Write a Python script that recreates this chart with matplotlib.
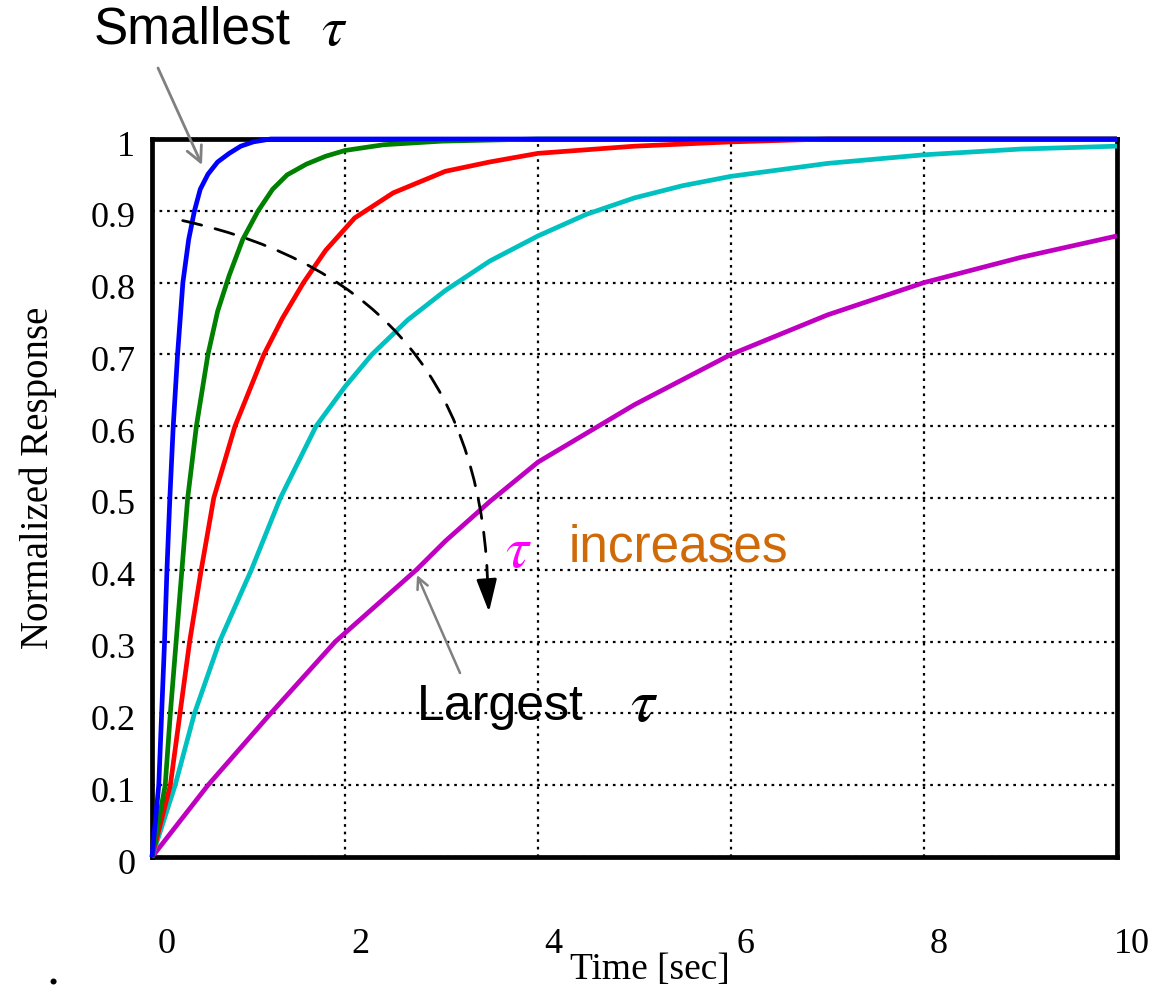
import numpy as np
import matplotlib
matplotlib.use("Agg")
import matplotlib.pyplot as plt
from matplotlib.patches import FancyArrowPatch
from matplotlib.transforms import ScaledTranslation

plt.rcParams["mathtext.fontset"] = "stix"

# ---------------- data ----------------
t_blue = [0, 0.07, 0.10, 0.13, 0.155, 0.185, 0.22, 0.265, 0.32, 0.38, 0.44, 0.50, 0.58,
          0.68, 0.80, 0.92, 1.05, 1.23, 10.0]
y_blue = [0, 0.10, 0.20, 0.30, 0.40, 0.50, 0.60, 0.70, 0.80, 0.86, 0.90, 0.93, 0.951,
          0.968, 0.98, 0.99, 0.996, 1.0, 1.0]

t_green = [0, 0.137, 0.19, 0.25, 0.31, 0.37, 0.46, 0.58, 0.68, 0.80, 0.94, 1.10, 1.25,
           1.40, 1.60, 1.80, 2.00, 2.40, 3.00, 4.00, 10.0]
y_green = [0, 0.10, 0.20, 0.30, 0.40, 0.50, 0.60, 0.70, 0.76, 0.81, 0.86, 0.90, 0.93,
           0.95, 0.965, 0.976, 0.984, 0.992, 0.997, 1.0, 1.0]

t_red = [0, 0.19, 0.29, 0.39, 0.51, 0.64, 0.86, 1.16, 1.35, 1.57, 1.80, 2.10, 2.50,
         3.04, 3.50, 4.00, 5.00, 6.00, 7.00, 10.0]
y_red = [0, 0.10, 0.20, 0.30, 0.40, 0.50, 0.60, 0.70, 0.75, 0.80, 0.845, 0.89, 0.925,
         0.955, 0.968, 0.98, 0.99, 0.996, 1.0, 1.0]

t_cyan = [0, 0.24, 0.44, 0.70, 1.03, 1.33, 1.70, 2.00, 2.28, 2.65, 3.04, 3.50, 4.00,
          4.50, 5.00, 5.50, 6.00, 7.00, 8.00, 9.00, 10.0]
y_cyan = [0, 0.10, 0.20, 0.30, 0.40, 0.50, 0.60, 0.655, 0.70, 0.748, 0.789, 0.83, 0.865,
          0.895, 0.918, 0.935, 0.948, 0.966, 0.978, 0.986, 0.99]

t_mag = [0, 0.58, 1.23, 1.90, 2.74, 3.04, 3.50, 4.00, 5.00, 6.00, 7.00, 8.00, 9.00, 10.0]
y_mag = [0, 0.10, 0.20, 0.30, 0.40, 0.44, 0.495, 0.55, 0.63, 0.70, 0.755, 0.80, 0.835, 0.865]

x_ticks = [0, 2, 4, 6, 8, 10]
x_ticklabels = ["0", "2", "4", "6", "8", "10"]
y_ticks = [0, 0.1, 0.2, 0.3, 0.4, 0.5, 0.6, 0.7, 0.8, 0.9, 1.0]
y_ticklabels = ["0", "0.1", "0.2", "0.3", "0.4", "0.5", "0.6", "0.7", "0.8", "0.9", "1"]

series = [
    (t_mag, y_mag, "#C000C0"),
    (t_cyan, y_cyan, "#00C0C0"),
    (t_red, y_red, "#FF0000"),
    (t_green, y_green, "#008000"),
    (t_blue, y_blue, "#0000FF"),
]

# ---------------- figure ----------------
W, H = 1173, 991
fig = plt.figure(figsize=(W / 100, H / 100), dpi=100)
fig.patch.set_facecolor("white")

L, R, T, B = 152, 1117, 139, 857
ax = fig.add_axes([L / W, 1 - B / H, (R - L) / W, (B - T) / H])
ax.set_xlim(0, 10)
ax.set_ylim(0, 1)

serif = "Liberation Serif"
sans = "Liberation Sans"

for t, y, c in series:
    ax.plot(t, y, color=c, lw=3.4, clip_on=False, zorder=5,
            solid_capstyle="butt", solid_joinstyle="round")

ax.set_xticks(x_ticks)
ax.set_xticklabels(x_ticklabels, fontfamily=serif, fontsize=26)
ax.set_yticks(y_ticks)
ax.set_yticklabels(y_ticklabels, fontfamily=serif, fontsize=26)
ax.tick_params(axis="both", length=0)
ax.tick_params(axis="x", pad=51)
ax.tick_params(axis="y", pad=12)

for lab in ax.get_xticklabels():
    lab.set_transform(lab.get_transform() + ScaledTranslation(15 / 100, 0, fig.dpi_scale_trans))
for lab in ax.get_yticklabels():
    lab.set_transform(lab.get_transform() + ScaledTranslation(0, -4 / 100, fig.dpi_scale_trans))

ax.grid(True, color="black", linestyle=(0, (1.2, 2.2)), lw=1.6)
ax.set_axisbelow(True)
for s in ax.spines.values():
    s.set_linewidth(3.4)
    s.set_color("black")
    s.set_zorder(4)


def fx(px):
    return px / W


def fy(py):
    return 1 - py / H


# axis labels
fig.text(fx(650), fy(970), "Time [sec]", fontfamily=serif, fontsize=27,
         ha="center", va="center")
fig.text(fx(38), fy(478), "Normalized Response", fontfamily=serif, fontsize=28,
         ha="center", va="center", rotation=90)
fig.text(fx(53), fy(990), r"$\mathbf{.}$", fontsize=26, ha="center", va="bottom")

# annotations
fig.text(fx(192), fy(30), "Smallest", fontfamily=sans, fontsize=37, ha="center", va="center")
fig.text(fx(334), fy(45), r"$\tau$", fontsize=41, ha="center", va="baseline")

fig.text(fx(518), fy(550), r"$\tau$", fontsize=42, color="#FF00FF", ha="center", va="center")
fig.text(fx(678), fy(548), "increases", fontfamily=sans, fontsize=37,
         color="#D06A08", ha="center", va="center")

fig.text(fx(500), fy(707), "Largest", fontfamily=sans, fontsize=36, ha="center", va="center")
fig.text(fx(644), fy(705), r"$\tau$", fontsize=44, ha="center", va="center")


def P(x, y):
    return (x, H - y)


ax.annotate("", xy=P(202, 165), xytext=P(158, 68), xycoords="figure pixels",
            textcoords="figure pixels",
            arrowprops=dict(arrowstyle="->", color="#808080", lw=2, mutation_scale=28,
                            shrinkA=0, shrinkB=0), zorder=10, annotation_clip=False)
ax.annotate("", xy=P(417, 575), xytext=P(460, 673), xycoords="figure pixels",
            textcoords="figure pixels",
            arrowprops=dict(arrowstyle="->", color="#808080", lw=1.8, mutation_scale=20,
                            shrinkA=0, shrinkB=0), zorder=10, annotation_clip=False)

# curved dashed arrow
start = np.array(P(180, 220), dtype=float)
end = np.array(P(489, 612), dtype=float)
rad = -0.4
arc = FancyArrowPatch(posA=tuple(start), posB=tuple(end + np.array([-1, 14])),
                      connectionstyle=f"arc3,rad={rad}", arrowstyle="-",
                      lw=2.0, color="black", linestyle=(0, (7, 5)),
                      transform=None, zorder=9)
fig.patches.append(arc)
ax.annotate("", xy=tuple(end), xytext=tuple(end + np.array([-2, 28])),
            xycoords="figure pixels", textcoords="figure pixels",
            arrowprops=dict(arrowstyle="-|>,head_length=0.8,head_width=0.25",
                            color="black", lw=2, mutation_scale=25,
                            shrinkA=0, shrinkB=0), zorder=10, annotation_clip=False)

fig.savefig("out.png", dpi=100, facecolor="white")
